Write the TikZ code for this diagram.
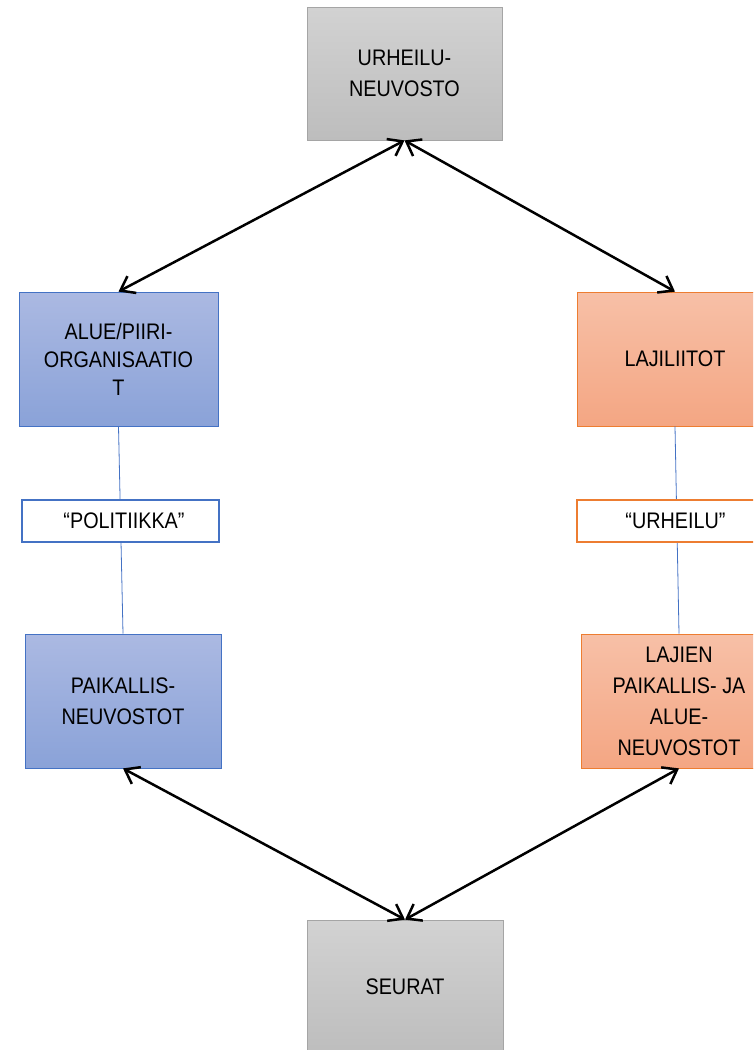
\documentclass[tikz,border=0pt]{standalone}
\usepackage{fontspec}
\setmainfont{Liberation Sans}[FakeStretch=0.88]
\usetikzlibrary{arrows.meta}
\definecolor{gtop}{HTML}{D2D2D2}
\definecolor{gbot}{HTML}{BDBDBD}
\definecolor{gbord}{HTML}{A5A5A5}
\definecolor{btop}{HTML}{ABB9E2}
\definecolor{bbot}{HTML}{8AA2D8}
\definecolor{bbord}{HTML}{4472C4}
\definecolor{otop}{HTML}{F7C0A7}
\definecolor{obot}{HTML}{F4A683}
\definecolor{obord}{HTML}{ED7D31}
\tikzset{
  x=1pt, y=-1pt,
  box/.style={rectangle, minimum width=196pt, minimum height=134pt, inner sep=0pt,
    align=center, font=\fontsize{22.5}{31}\selectfont, line width=0.8pt},
  graybox/.style={box, draw=gbord, top color=gtop, bottom color=gbot},
  bluebox/.style={box, draw=bbord, top color=btop, bottom color=bbot},
  orangebox/.style={box, draw=obord, top color=otop, bottom color=obot},
  tagbox/.style={rectangle, minimum width=197pt, minimum height=42pt, inner sep=0pt,
    fill=white, line width=2pt, font=\fontsize{22.5}{24}\selectfont},
  arr/.style={line width=2.5pt, {Straight Barb[length=13pt,width=19pt]}-{Straight Barb[length=13pt,width=19pt]}},
  thin/.style={line width=0.8pt}
}
\begin{document}
\begin{tikzpicture}
\useasboundingbox (0,0) rectangle (753,1050);
\clip (0,0) rectangle (753,1050);
\node[graybox, minimum width=195pt, minimum height=133pt] (top) at (404.5,73.5) {URHEILU-\\NEUVOSTO};
\node[bluebox, minimum width=199pt, font=\fontsize{22.5}{28}\selectfont] (left1) at (118.5,359) {ALUE/PIIRI-\\ORGANISAATIO\\T};
\node[orangebox] (right1) at (675,359) {LAJILIITOT};
\node[bluebox] (left2) at (123,701) {PAIKALLIS-\\NEUVOSTOT};
\node[orangebox] (right2) at (679,701) {LAJIEN\\PAIKALLIS- JA\\ALUE-\\NEUVOSTOT};
\node[graybox] (bot) at (405,987) {SEURAT};
\draw[thin, draw=bbord] (left1.south) -- (left2.north);
\draw[thin, draw=bbord] (right1.south) -- (right2.north);
\node[tagbox, draw=bbord] (pol) at (120,521) {\hspace*{8pt}“POLITIIKKA”};
\node[tagbox, draw=obord] (urh) at (675.5,520.5) {“URHEILU”};
\draw[arr] (top.south) -- (left1.north);
\draw[arr] (top.south) -- (right1.north);
\draw[arr] (left2.south) -- (bot.north);
\draw[arr] (right2.south) -- (bot.north);
\end{tikzpicture}
\end{document}
